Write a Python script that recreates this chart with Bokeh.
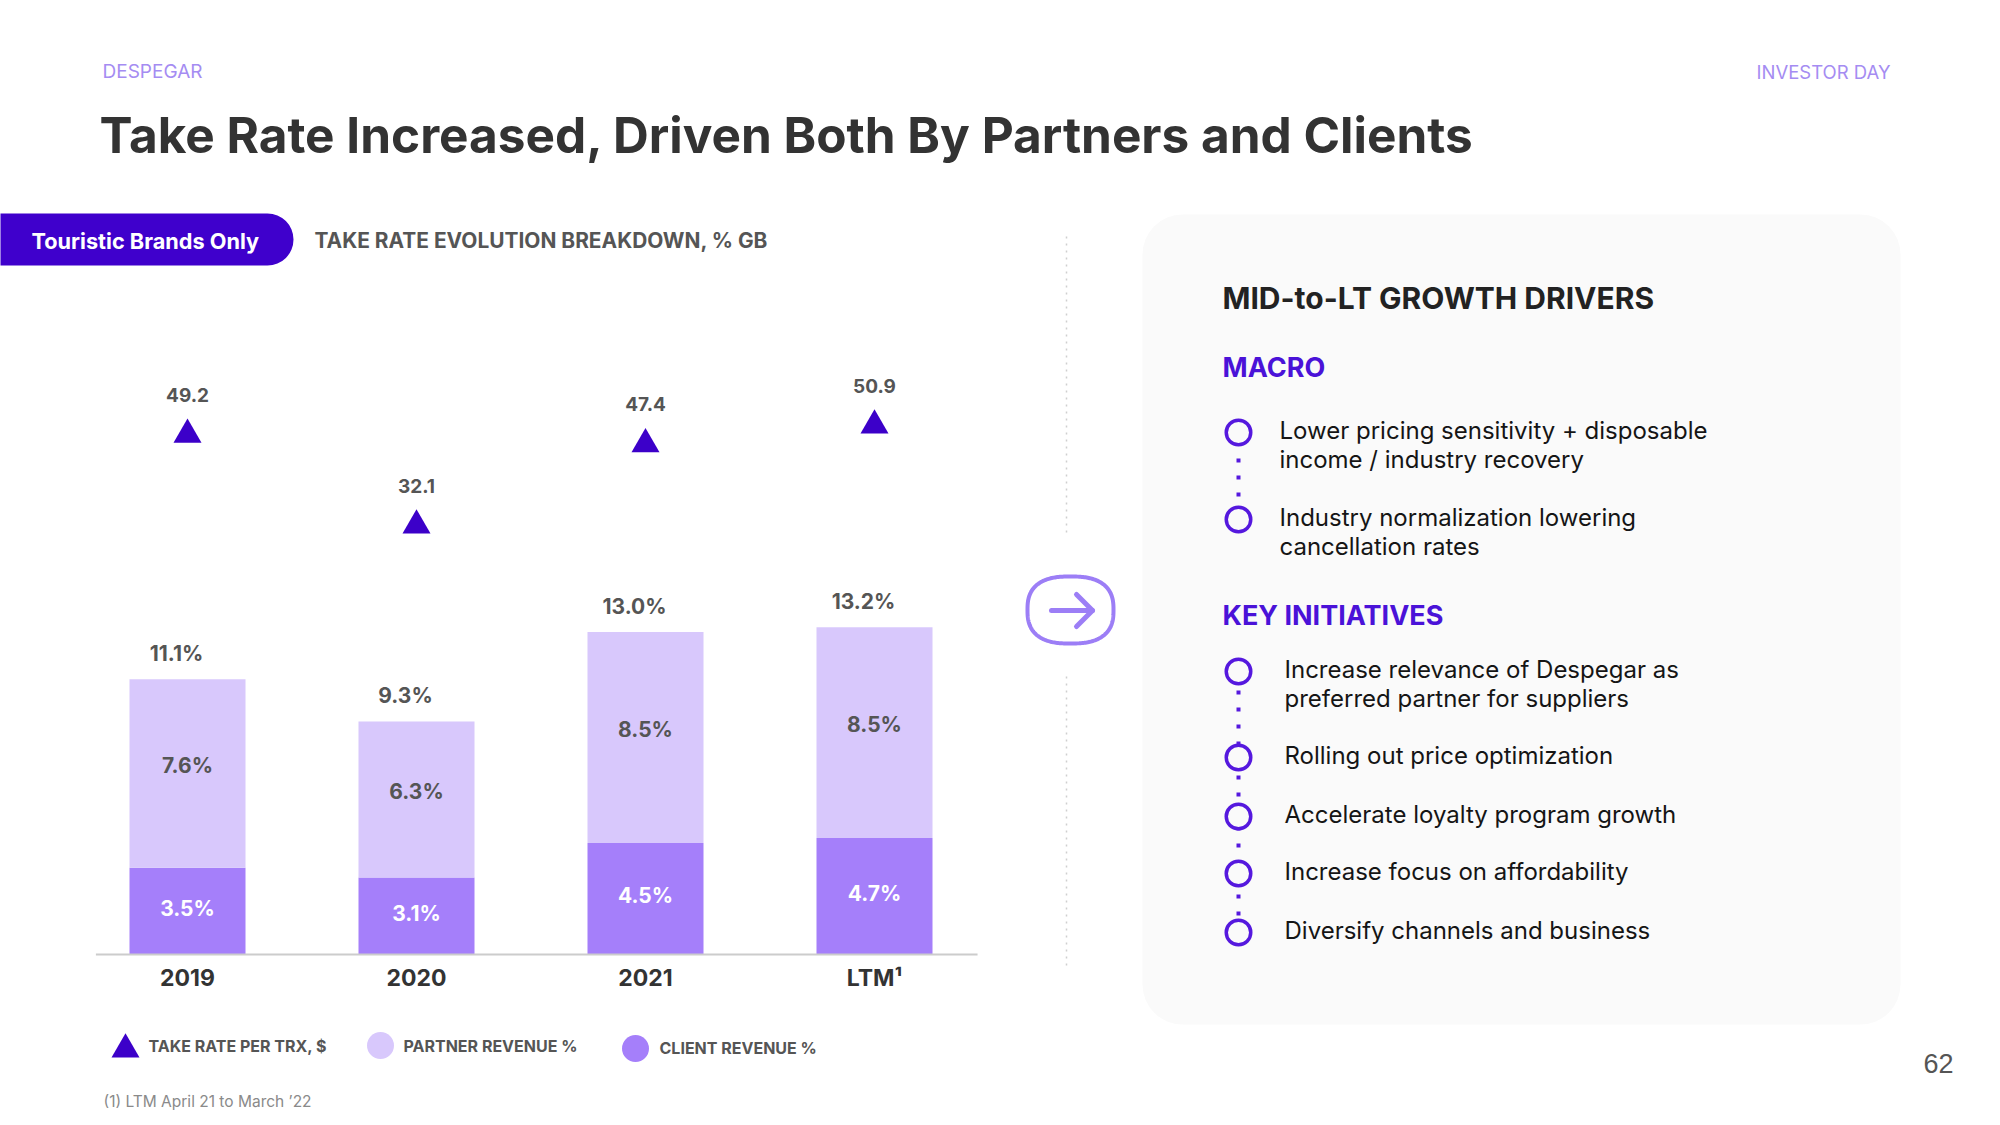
import numpy as np
from bokeh.plotting import figure
from bokeh.models import Range1d, ColumnDataSource, BoxAnnotation
from bokeh.core.properties import value
from bokeh.embed import file_html
from bokeh.resources import INLINE

# ---------------- data ----------------
categories = ["2019", "2020", "2021", "LTM\u00b9"]
client_revenue_pct = [3.5, 3.1, 4.5, 4.7]
partner_revenue_pct = [7.6, 6.3, 8.5, 8.5]
total_take_rate_pct = [11.1, 9.3, 13.0, 13.2]
take_rate_per_trx_usd = [49.2, 32.1, 47.4, 50.9]

legend_labels = ["TAKE RATE PER TRX, $", "PARTNER  REVENUE %", "CLIENT REVENUE %"]
macro_items = [["Lower pricing sensitivity + disposable", "income / industry recovery"],
               ["Industry normalization lowering", "cancellation rates"]]
key_items = [["Increase relevance of Despegar as", "preferred partner for suppliers"],
             ["Rolling out price optimization"],
             ["Accelerate loyalty program growth"],
             ["Increase focus on affordability"],
             ["Diversify channels and business"]]

# ---------------- page geometry ----------------
W, H = 1984, 1117
M = 0
def X(v): return v - M
def Y(v): return v - M

FONT = "Inter"
DEEP = "#3c00c9"
HEAD = "#4a12d8"
RING = "#5518de"
PARTNER = "#d8c8fc"
CLIENT = "#a57ffa"
LIGHTP = "#a58cf2"
ARROW = "#9c7ef6"
GRAY = "#555555"
PANEL = "#fafafa"

BAR0, STEP = 187, 229         # page x of first category, spacing
BASE, PPP = 954, 24.8         # baseline page y, px per %
U_REF, U_Y, U_PPU = 40.0, 483, 5.32   # usd axis calibration

p = figure(width=W, height=H, x_range=Range1d(0, W), y_range=Range1d(H, 0),
           output_backend="svg", toolbar_location=None, min_border=0,
           x_axis_type=None, y_axis_type=None)
p.outline_line_color = None
p.background_fill_color = "white"
p.border_fill_color = "white"

p.extra_x_ranges = {"idx": Range1d(-X(BAR0) / STEP, (W - X(BAR0)) / STEP)}
p.extra_y_ranges = {"pct": Range1d(-(H - Y(BASE)) / PPP, Y(BASE) / PPP),
                    "usd": Range1d(U_REF - (H - Y(U_Y)) / U_PPU, U_REF + Y(U_Y) / U_PPU)}


def txt(x, y, s, size, color, bold=False, align="left", font=FONT):
    p.text(x=[X(x)], y=[Y(y)], text=[s], text_font=value(font),
           text_font_size=f"{size}px", text_font_style="bold" if bold else "normal",
           text_color=color, text_align=align, text_baseline="middle")

# ---------------- header ----------------
txt(102, 71, "DESPEGAR", 19, LIGHTP)
txt(1890, 71, "INVESTOR DAY", 18.5, LIGHTP, align="right")
txt(99, 134, "Take Rate Increased, Driven Both By Partners and Clients", 49.5, "#333333", bold=True)

pill = BoxAnnotation(left=-40, right=X(293), top=Y(213), bottom=Y(265), fill_color="#3f00cc",
                     fill_alpha=1, line_color=None, border_radius=26, level="underlay")
p.add_layout(pill)
txt(31, 240, "Touristic Brands Only", 21.7, "white", bold=True)
txt(314, 240, "TAKE RATE EVOLUTION BREAKDOWN, % GB", 20.9, GRAY, bold=True)

# ---------------- chart ----------------
n = len(categories)
src = ColumnDataSource(dict(
    idx=list(range(n)),
    cat=categories,
    client=client_revenue_pct,
    partner=partner_revenue_pct,
    stack_top=[c + q for c, q in zip(client_revenue_pct, partner_revenue_pct)],
    client_mid=[c / 2 for c in client_revenue_pct],
    partner_mid=[c + q / 2 for c, q in zip(client_revenue_pct, partner_revenue_pct)],
    zero=[0] * n,
    client_lbl=[f"{v:.1f}%" for v in client_revenue_pct],
    partner_lbl=[f"{v:.1f}%" for v in partner_revenue_pct],
    total_lbl=[f"{v:.1f}%" for v in total_take_rate_pct],
    usd=take_rate_per_trx_usd,
    usd_lbl=[f"{v:.1f}" for v in take_rate_per_trx_usd],
))
bw = 116 / STEP
kw = dict(source=src, x_range_name="idx", y_range_name="pct")
p.vbar(x="idx", width=bw, bottom="zero", top="client", fill_color=CLIENT, line_color=None, **kw)
p.vbar(x="idx", width=bw, bottom="client", top="stack_top", fill_color=PARTNER, line_color=None, **kw)

# baseline
p.line(x=[-0.40, n - 1 + 0.45], y=[0, 0], line_color="#cccccc", line_width=2,
       x_range_name="idx", y_range_name="pct")

lab = dict(text_font=value(FONT), text_font_style="bold", text_align="center", text_baseline="middle")
p.text(x="idx", y="stack_top", text="total_lbl", x_offset=-11, y_offset=-26,
       text_font_size="21px", text_color=GRAY, **lab, **kw)
p.text(x="idx", y="partner_mid", text="partner_lbl", y_offset=-8,
       text_font_size="21px", text_color="#555555", **lab, **kw)
p.text(x="idx", y="client_mid", text="client_lbl", y_offset=-3,
       text_font_size="21px", text_color="white", **lab, **kw)
p.text(x="idx", y="zero", text="cat", y_offset=23,
       text_font_size="23px", text_color="#333333", **lab, **kw)

ukw = dict(source=src, x_range_name="idx", y_range_name="usd")
p.scatter(x="idx", y="usd", marker="triangle", size=28, fill_color=DEEP, line_color=None,
          **ukw)
p.text(x="idx", y="usd", text="usd_lbl", y_offset=-40,
       text_font_size="19px", text_color=GRAY, **lab, **ukw)

# legend
p.scatter(x=[X(125)], y=[Y(1049)], marker="triangle", size=28, fill_color=DEEP, line_color=None)
p.scatter(x=[X(380), X(635)], y=[Y(1045), Y(1048)], marker="circle", size=27,
          fill_color=[PARTNER, CLIENT], line_color=None)
txt(148, 1045, legend_labels[0], 16, GRAY, bold=True)
txt(403, 1045, legend_labels[1], 16, GRAY, bold=True)
txt(659, 1047, legend_labels[2], 16, GRAY, bold=True)
txt(103, 1101, "(1) LTM April 21 to March \u201922", 15.5, "#8a8a8a")

# ---------------- separator + arrow ----------------
for y0, y1 in [(236, 536), (676, 969)]:
    p.line(x=[X(1066), X(1066)], y=[Y(y0), Y(y1)], line_color="#cfcfcf", line_width=1.5,
           line_dash="2 5")
t = np.linspace(0, 2 * np.pi, 240)
nexp = 2.6
cx, cy, a, b = X(1070), Y(609.5), 43, 33.5
xs = cx + a * np.sign(np.cos(t)) * np.abs(np.cos(t)) ** (2 / nexp)
ys = cy + b * np.sign(np.sin(t)) * np.abs(np.sin(t)) ** (2 / nexp)
p.patch(x=xs, y=ys, fill_color=None, line_color=ARROW, line_width=4)
p.line(x=[X(1051), X(1092)], y=[Y(610), Y(610)], line_color=ARROW, line_width=5, line_cap="round")
p.line(x=[X(1076), X(1092), X(1076)], y=[Y(594), Y(610), Y(626)], line_color=ARROW,
       line_width=5, line_cap="round", line_join="round")

# ---------------- right panel ----------------
panel = BoxAnnotation(left=X(1142), right=X(1900), top=Y(214), bottom=Y(1024),
                      fill_color=PANEL, fill_alpha=1, line_color=None, border_radius=40,
                      level="underlay")
p.add_layout(panel)

txt(1222, 297, "MID-to-LT GROWTH DRIVERS", 30, "#222222", bold=True)
txt(1222, 367, "MACRO", 27, HEAD, bold=True)
txt(1222, 615, "KEY INITIATIVES", 27, HEAD, bold=True)

macro_y = [432, 519]
key_y = [671, 757, 816, 873, 932]
LS = 28.5
# dotted connectors
p.line(x=[X(1238)] * 2, y=[Y(441), Y(macro_y[-1])], line_color=RING, line_width=4, line_dash="4 13")
p.line(x=[X(1238)] * 2, y=[Y(673), Y(key_y[-1])], line_color=RING, line_width=4, line_dash="4 13")
p.scatter(x=[X(1238)] * (len(macro_y) + len(key_y)), y=[Y(v) for v in macro_y + key_y],
          marker="circle", size=24.5, line_width=3.5, line_color=RING, fill_color=PANEL)

for yy, lines in zip(macro_y, macro_items):
    for k, s in enumerate(lines):
        txt(1279, yy - 2 + k * LS, s, 24, "#151515")
for yy, lines in zip(key_y, key_items):
    for k, s in enumerate(lines):
        txt(1284, yy - 2 + k * LS, s, 24, "#151515")

txt(1938, 1063, "62", 27, GRAY, align="center", font="Liberation Sans")

open("out.html", "w").write(file_html(p, INLINE))
